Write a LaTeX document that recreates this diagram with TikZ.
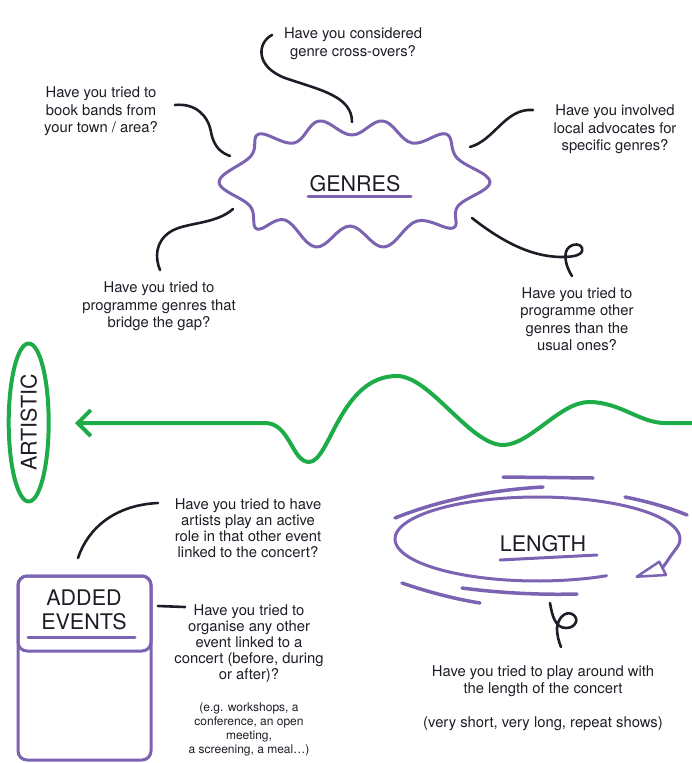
\documentclass[tikz,border=0pt]{standalone}
\usepackage{fontspec}
\setmainfont{TeX Gyre Heros}
\usepackage{tikz}
\usetikzlibrary{arrows.meta, shapes.geometric, positioning}

\definecolor{ink}{RGB}{32,27,38}
\definecolor{lilac}{RGB}{123,99,178}
\definecolor{leaf}{RGB}{30,172,72}

\begin{document}
\begin{tikzpicture}[
        x=1pt, y=-1pt, line cap=round, line join=round,
        link/.style={draw=ink, line width=2.6pt},
        cloud/.style={draw=lilac, line width=3pt},
        uline/.style={draw=lilac, line width=3pt},
        wave/.style={draw=leaf, line width=4pt},
        ask/.style={text=ink, align=center, font=\fontsize{14.8}{17.5}\selectfont},
        asklow/.style={ask, font=\fontsize{14.8}{16}\selectfont},
        aside/.style={ask, font=\fontsize{12}{14}\selectfont},
        title/.style={text=ink, align=center, font=\fontsize{21.5}{24}\selectfont},
        box/.style={draw=lilac, line width=3pt, rounded corners=9pt, minimum width=133pt, outer sep=0pt, anchor=north},
        ]
        \useasboundingbox (0,0) rectangle (692,763);

        % genres
        \draw[cloud] plot[smooth cycle, tension=0.65] coordinates {
          (219,182) (251,156) (259,134) (294,143) (319,121) (352,135) (383,121) (412,143)
          (446,134) (457,158) (490,182) (458,206) (453,228) (417,221) (384,247) (350,226)
          (316,247) (285,220) (257,229) (250,206)};
        \node[title] (n_genres) at (355,184) {GENRES};
        \draw[uline] (308,196) -- (411,196);

        \node[ask] (q_cross)     at (353,43.5)  {Have you considered\\genre cross-overs?};
        \node[ask] (q_bands)     at (101,111.5) {Have you tried to\\book bands from\\your town / area?};
        \node[ask] (q_advocates) at (615,129.5) {Have you involved\\local advocates for\\specific genres?};
        \node[ask] (q_other)     at (577,319)   {Have you tried to\\programme other\\genres than the\\usual ones?};
        \node[ask] (q_bridge)    at (159,306.5) {Have you tried to\\programme genres that\\bridge the gap?};

        \coordinate (c_cross) at (272,35);  \coordinate (g_top) at (352,122);
        \coordinate (c_bands) at (175,105); \coordinate (g_ul) at (230,156);
        \coordinate (c_adv) at (533,110);   \coordinate (g_ur) at (470,147);
        \coordinate (g_lr) at (472,218);    \coordinate (c_other) at (572,276);
        \coordinate (g_ll) at (233,209);    \coordinate (c_bridge) at (160,270);

        \draw[link] (c_cross) .. controls (258,42) and (254,66) .. (285,78)
          .. controls (320,90) and (352,96) .. (g_top);
        \draw[link] (c_bands) .. controls (195,103) and (208,115) .. (211,132)
          .. controls (214,148) and (222,153) .. (g_ul);
        \draw[link] (c_adv) .. controls (505,108) and (495,140) .. (g_ur);
        \draw[link] (g_lr) .. controls (500,240) and (530,257) .. (562,257)
          .. controls (574,257) and (584,255) .. (582,248)
          .. controls (580,242) and (568,244) .. (566,252)
          .. controls (564,260) and (568,270) .. (c_other);
        \draw[link] (g_ll) .. controls (215,225) and (185,222) .. (170,232)
          .. controls (155,242) and (155,258) .. (c_bridge);

        % artistic
        \node[title, draw=leaf, line width=4pt, ellipse, inner sep=0pt,
          minimum width=158pt, minimum height=40pt, rotate=90] (n_artistic) at (28.7,422.5) {ARTISTIC};
        \coordinate (w_tip) at (75,423);
        \draw[wave, {Straight Barb[length=13pt, width=26pt]}-] (w_tip) -- (265,423)
          .. controls (290,423) and (292,462) .. (309,462)
          .. controls (330,462) and (340,376) .. (397,376)
          .. controls (430,376) and (470,445) .. (503,445)
          .. controls (530,445) and (560,402) .. (589,402)
          .. controls (620,402) and (640,423) .. (665,423) -- (692,423);

        % length
        \node[title] (n_length) at (543,543.5) {LENGTH};
        \draw[uline] (500,560) -- (597,555);
        \draw[cloud] plot[domain=61:375, samples=90, variable=\t]
          ({537.5+142.5*cos(\t)}, {539+42*sin(\t)})
          .. controls (671,555) and (667,562) .. (663,567);
        \draw[cloud, line width=2.5pt] (636.7,576.7) -- (659.3,561.7) -- (666,575) -- cycle;
        \draw[cloud, line width=3.5pt] (503,477) -- (593,478);
        \draw[cloud, line width=3.5pt] (395,518) .. controls (440,500) and (490,490) .. (543,487);
        \draw[cloud, line width=3.5pt] (625,497) .. controls (650,502) and (670,508) .. (687,515);
        \draw[cloud, line width=3.5pt] (402,583) .. controls (428,592) and (455,599) .. (480,603);
        \draw[cloud, line width=3.5pt] (462,588) .. controls (500,593) and (540,595) .. (577,594);

        \node[ask] (q_play) at (543,681) {Have you tried to play around with\\the length of the concert};
        \node[ask] (q_shows) [below=13pt of q_play] {(very short, very long, repeat shows)};
        \coordinate (l_bot) at (550,603); \coordinate (c_play) at (561,647);
        \draw[link] (l_bot) .. controls (552,615) and (555,628) .. (566,628)
          .. controls (576,628) and (580,618) .. (572,614)
          .. controls (565,611) and (558,618) .. (557,628)
          .. controls (557,636) and (559,642) .. (c_play);

        % added events
        \node[box, minimum height=184pt] (box_events) at (84.5,576) {};
        \node[box, minimum height=75pt] (box_head) at (box_events.north) {};
        \node[title] (n_added) at (84,610) {ADDED\\EVENTS};
        \draw[uline] (28,637) -- (135,637);

        \node[asklow] (q_artists)  at (248,528.5) {Have you tried to have\\artists play an active\\role in that other event\\linked to the concert?};
        \node[asklow] (q_organise) at (249,643.5) {Have you tried to\\organise any other\\event linked to a\\concert (before, during\\or after)?};
        \node[aside]  (q_eg)       at (249,729)   {(e.g. workshops, a\\conference, an open\\meeting,\\a screening, a meal…)};

        \coordinate (e_top) at (78,558);  \coordinate (c_artists) at (158,503);
        \coordinate (e_side) at (158,606); \coordinate (c_organise) at (185,607);
        \draw[link] (e_top) .. controls (88,528) and (115,505) .. (c_artists);
        \draw[link] (e_side) -- (c_organise);
      \end{tikzpicture}
\end{document}
